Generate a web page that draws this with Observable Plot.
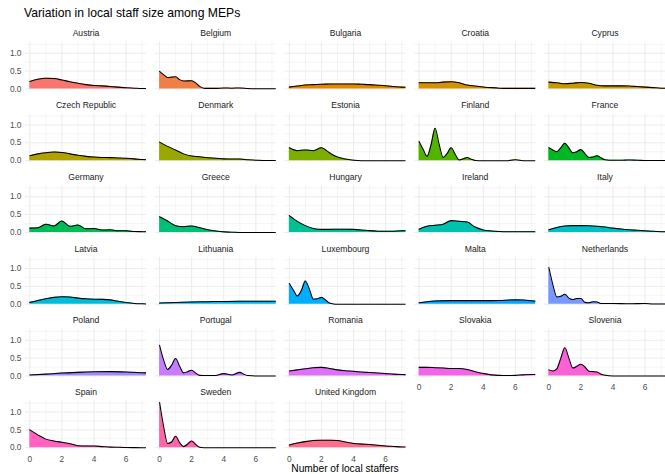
<!DOCTYPE html>
<html>
<head>
<meta charset="utf-8">
<script src="https://cdn.jsdelivr.net/npm/d3@7"></script>
<script src="https://cdn.jsdelivr.net/npm/@observablehq/plot@0.6"></script>
<style>
  html, body { margin: 0; padding: 0; background: #ffffff; }
  #wrap { position: relative; width: 665px; height: 474px; overflow: hidden; font-family: "Liberation Sans", Arial, sans-serif; }
  #wrap svg { position: absolute; left: 0; top: 0; }
  #title { position: absolute; left: 24px; top: 7px; font-size: 12.2px; line-height: 12px; color: #000; white-space: nowrap; }
  #xlab { position: absolute; left: 25px; width: 640px; top: 465.3px; text-align: center; font-size: 10.2px; line-height: 8px; color: #000; white-space: nowrap; }
</style>
</head>
<body>
<div id="wrap">
  <div id="title">Variation in local staff size among MEPs</div>
  <div id="xlab">Number of local staffers</div>
</div>
<script>
// Facet order (as in the reference)
const countries = ["Austria","Belgium","Bulgaria","Croatia","Cyprus",
  "Czech Republic","Denmark","Estonia","Finland","France",
  "Germany","Greece","Hungary","Ireland","Italy",
  "Latvia","Lithuania","Luxembourg","Malta","Netherlands",
  "Poland","Portugal","Romania","Slovakia","Slovenia",
  "Spain","Sweden","United Kingdom"];

// Density curves: [number of local staffers, density]
const austria = [[0,0.21],[0.5,0.27],[1,0.3],[1.5,0.29],[2,0.25],[2.5,0.2],[3,0.16],[3.5,0.12],[4,0.095],[4.5,0.085],[5,0.07],[5.5,0.05],[6,0.03],[6.5,0.02],[7,0.01],[7.5,0.01]];
const belgium = [[0,0.49],[0.25,0.4],[0.5,0.32],[0.75,0.33],[1,0.34],[1.25,0.26],[1.5,0.22],[2,0.23],[2.25,0.17],[2.5,0.07],[2.75,0.02],[3,0.015],[3.5,0.015],[4,0.025],[4.5,0.02],[5,0.025],[5.5,0.01],[6,0.005],[7.5,0.005]];
const bulgaria = [[0,0.05],[0.5,0.08],[1,0.11],[1.5,0.12],[2,0.13],[2.5,0.135],[3,0.14],[3.5,0.14],[4,0.14],[4.5,0.13],[5,0.12],[5.5,0.105],[6,0.09],[6.5,0.07],[7,0.05],[7.5,0.04]];
const croatia = [[0,0.17],[0.5,0.17],[1,0.17],[1.5,0.19],[2,0.2],[2.5,0.17],[3,0.11],[3.5,0.08],[4,0.055],[4.5,0.035],[5,0.02],[5.5,0.015],[6,0.015],[6.5,0.015],[7,0.015],[7.5,0.015]];
const cyprus = [[0,0.19],[0.5,0.17],[1,0.145],[1.5,0.16],[2,0.18],[2.5,0.16],[3,0.1],[3.5,0.085],[4,0.085],[4.5,0.085],[5,0.08],[5.5,0.065],[6,0.05],[6.5,0.035],[7,0.02],[7.5,0.015]];
const czechRepublic = [[0,0.14],[0.5,0.19],[1,0.22],[1.5,0.24],[2,0.23],[2.5,0.19],[3,0.15],[3.5,0.12],[4,0.1],[4.5,0.09],[5,0.085],[5.5,0.075],[6,0.065],[6.5,0.05],[7,0.03],[7.5,0.02]];
const denmark = [[0,0.52],[0.5,0.4],[1,0.3],[1.5,0.19],[2,0.13],[2.5,0.11],[3,0.08],[3.5,0.07],[4,0.05],[4.5,0.045],[5,0.045],[5.5,0.025],[6,0.01],[6.5,0.005],[7,0.003],[7.5,0]];
const estonia = [[0,0.36],[0.5,0.28],[1,0.3],[1.5,0.28],[2,0.36],[2.5,0.22],[3,0.1],[3.5,0.045],[4,0.01],[4.5,0],[7.5,0]];
const finland = [[0,0.54],[0.25,0.32],[0.5,0.12],[0.75,0.45],[1,0.91],[1.25,0.46],[1.5,0.09],[1.75,0.2],[2,0.36],[2.25,0.18],[2.5,0.02],[2.75,0.05],[3,0.09],[3.25,0.04],[3.5,0.005],[4,0],[5.5,0],[6,0.025],[6.5,0],[7.5,0]];
const france = [[0,0.36],[0.25,0.3],[0.5,0.25],[0.75,0.36],[1,0.49],[1.25,0.36],[1.5,0.22],[1.75,0.25],[2,0.31],[2.25,0.2],[2.5,0.09],[2.75,0.1],[3,0.14],[3.25,0.08],[3.5,0.025],[4,0.01],[4.5,0.01],[5,0.02],[5.5,0.01],[6,0.005],[7.5,0.003]];
const germany = [[0,0.12],[0.5,0.13],[1,0.23],[1.5,0.18],[2,0.32],[2.5,0.17],[3,0.21],[3.5,0.1],[4,0.11],[4.5,0.065],[5,0.075],[5.5,0.045],[6,0.045],[6.5,0.025],[7,0.02],[7.5,0.015]];
const greece = [[0,0.44],[0.5,0.32],[1,0.19],[1.5,0.16],[2,0.18],[2.5,0.13],[3,0.075],[3.5,0.04],[4,0.015],[4.5,0.003],[5,0],[7.5,0]];
const hungary = [[0,0.47],[0.5,0.31],[1,0.19],[1.5,0.11],[2,0.085],[2.5,0.085],[3,0.09],[3.5,0.09],[4,0.085],[4.5,0.07],[5,0.05],[5.5,0.035],[6,0.03],[6.5,0.035],[7,0.045],[7.5,0.045]];
const ireland = [[0,0.09],[0.5,0.17],[1,0.2],[1.5,0.23],[2,0.33],[2.5,0.31],[3,0.29],[3.5,0.15],[4,0.07],[4.5,0.04],[5,0.025],[5.5,0.02],[6,0.02],[6.5,0.02],[7,0.02],[7.5,0.02]];
const italy = [[0,0.075],[0.5,0.14],[1,0.18],[1.5,0.19],[2,0.19],[2.5,0.185],[3,0.17],[3.5,0.15],[4,0.12],[4.5,0.095],[5,0.075],[5.5,0.06],[6,0.045],[6.5,0.03],[7,0.02],[7.5,0.015]];
const latvia = [[0,0.05],[0.5,0.1],[1,0.15],[1.5,0.19],[2,0.21],[2.5,0.2],[3,0.17],[3.5,0.15],[4,0.14],[4.5,0.135],[5,0.12],[5.5,0.08],[6,0.045],[6.5,0.02],[7,0.01],[7.5,0.005]];
const lithuania = [[0,0.035],[1,0.045],[2,0.06],[3,0.07],[4,0.075],[5,0.08],[6,0.08],[7,0.08],[7.5,0.08]];
const luxembourg = [[0,0.58],[0.25,0.4],[0.5,0.23],[0.75,0.38],[1,0.65],[1.25,0.42],[1.5,0.14],[1.75,0.15],[2,0.19],[2.25,0.12],[2.5,0.03],[2.75,0.005],[3,0],[7.5,0]];
const malta = [[0,0.04],[0.5,0.07],[1,0.09],[2,0.1],[3,0.1],[4,0.1],[5,0.105],[6,0.12],[6.5,0.115],[7,0.095],[7.5,0.08]];
const netherlands = [[0,1.03],[0.25,0.55],[0.5,0.2],[0.75,0.22],[1,0.28],[1.25,0.17],[1.5,0.13],[1.75,0.16],[2,0.16],[2.25,0.05],[2.5,0.04],[2.75,0.07],[3,0.06],[3.25,0.02],[3.5,0.02],[4,0.02],[5,0.01],[6,0.02],[6.5,0.005],[7.5,0.005]];
const poland = [[0,0.025],[1,0.05],[2,0.08],[3,0.1],[4,0.115],[5,0.12],[6,0.11],[7,0.09],[7.5,0.08]];
const portugal = [[0,0.86],[0.25,0.45],[0.5,0.18],[0.75,0.3],[1,0.49],[1.25,0.27],[1.5,0.085],[1.75,0.12],[2,0.16],[2.25,0.08],[2.5,0.015],[3,0.01],[3.5,0.01],[4,0.065],[4.5,0.025],[5,0.1],[5.25,0.05],[5.5,0.01],[6,0],[7.5,0]];
const romania = [[0,0.14],[0.5,0.17],[1,0.2],[1.5,0.23],[2,0.24],[2.5,0.21],[3,0.17],[3.5,0.145],[4,0.13],[4.5,0.11],[5,0.095],[5.5,0.08],[6,0.065],[6.5,0.05],[7,0.04],[7.5,0.035]];
const slovakia = [[0,0.24],[0.5,0.24],[1,0.23],[1.5,0.22],[2,0.21],[2.5,0.21],[3,0.18],[3.5,0.12],[4,0.07],[4.5,0.03],[5,0.015],[5.5,0.01],[6,0.015],[6.5,0.03],[7,0.04],[7.5,0.04]];
const slovenia = [[0,0.17],[0.25,0.14],[0.5,0.2],[0.75,0.5],[1,0.79],[1.25,0.5],[1.5,0.22],[1.75,0.27],[2,0.33],[2.25,0.25],[2.5,0.13],[2.75,0.12],[3,0.11],[3.25,0.05],[3.5,0.02],[4,0],[7.5,0]];
const spain = [[0,0.5],[0.5,0.36],[1,0.24],[1.5,0.19],[2,0.15],[2.5,0.11],[3,0.055],[3.5,0.045],[4,0.045],[4.5,0.03],[5,0.015],[5.5,0.01],[6,0.005],[6.5,0.002],[7.5,0]];
const sweden = [[0,1.27],[0.25,0.6],[0.5,0.12],[0.75,0.16],[1,0.32],[1.25,0.14],[1.5,0.03],[1.75,0.1],[2,0.19],[2.25,0.09],[2.5,0.01],[2.75,0],[7.5,0]];
const unitedKingdom = [[0,0.075],[0.5,0.13],[1,0.17],[1.5,0.2],[2,0.21],[2.5,0.21],[3,0.2],[3.5,0.16],[4,0.12],[4.5,0.1],[5,0.09],[5.5,0.07],[6,0.05],[6.5,0.035],[7,0.02],[7.5,0.015]];

const curves = [austria, belgium, bulgaria, croatia, cyprus,
  czechRepublic, denmark, estonia, finland, france,
  germany, greece, hungary, ireland, italy,
  latvia, lithuania, luxembourg, malta, netherlands,
  poland, portugal, romania, slovakia, slovenia,
  spain, sweden, unitedKingdom];

// Tick values
const xTicks = [0, 2, 4, 6];
const xMinor = [1, 3, 5, 7];
const yTicks = [0, 0.5, 1];
const yMinor = [0.25, 0.75, 1.25];

// ggplot2 default hue palette (polar LUV, c = 100, l = 65)
function hclHex(h, c, l) {
  const hr = h * Math.PI / 180;
  const U = c * Math.cos(hr), V = c * Math.sin(hr);
  const Y = l > 8 ? Math.pow((l + 16) / 116, 3) : l / 903.3;
  const Xn = 0.95047, Yn = 1, Zn = 1.08883;
  const den = Xn + 15 * Yn + 3 * Zn;
  const un = 4 * Xn / den, vn = 9 * Yn / den;
  const up = U / (13 * l) + un, vp = V / (13 * l) + vn;
  const X = Y * 9 * up / (4 * vp);
  const Z = Y * (12 - 3 * up - 20 * vp) / (4 * vp);
  const lin = [
    3.2404542 * X - 1.5371385 * Y - 0.4985314 * Z,
    -0.9692660 * X + 1.8760108 * Y + 0.0415560 * Z,
    0.0556434 * X - 0.2040259 * Y + 1.0572252 * Z
  ];
  return "#" + lin.map(v => {
    v = v <= 0.0031308 ? 12.92 * v : 1.055 * Math.pow(v, 1 / 2.4) - 0.055;
    v = Math.max(0, Math.min(1, v));
    return Math.round(v * 255).toString(16).padStart(2, "0");
  }).join("");
}
const palette = countries.map((_, i) => hclHex(15 + i * 360 / countries.length, 100, 65));

const rows = curves.flatMap((pts, i) => pts.map(([x, y]) => ({
  country: countries[i], x, y, col: i % 5, row: Math.floor(i / 5)
})));
const strips = countries.map((c, i) => ({country: c, col: i % 5, row: Math.floor(i / 5)}));

const gridColor = "#EBEBEB";

const chart = Plot.plot({
  width: 665,
  height: 474,
  marginLeft: 25,
  marginRight: 0,
  marginTop: 41.7,
  marginBottom: 24.5,
  style: {fontFamily: "'Liberation Sans', Arial, sans-serif", fontSize: "8.3px", color: "#4D4D4D", background: "white"},
  fx: {domain: [0, 1, 2, 3, 4], paddingInner: 0.0674, paddingOuter: 0, round: false, axis: null, label: null},
  fy: {domain: [0, 1, 2, 3, 4, 5], paddingInner: 0.317, paddingOuter: 0, round: false, axis: null, label: null},
  x: {domain: [-0.27, 7.27], ticks: xTicks, tickSize: 0, tickPadding: 6, label: null, tickFormat: d => String(d)},
  y: {domain: [-0.065, 1.31], ticks: yTicks, tickSize: 0, tickPadding: 4, label: null, tickFormat: d3.format(".1f")},
  color: {type: "ordinal", domain: countries, range: palette},
  marks: [
    Plot.gridX(xMinor, {stroke: gridColor, strokeOpacity: 1, strokeWidth: 0.55}),
    Plot.gridY(yMinor, {stroke: gridColor, strokeOpacity: 1, strokeWidth: 0.55}),
    Plot.gridX(xTicks, {stroke: gridColor, strokeOpacity: 1, strokeWidth: 1}),
    Plot.gridY(yTicks, {stroke: gridColor, strokeOpacity: 1, strokeWidth: 1}),
    Plot.areaY(rows, {x: "x", y: "y", z: "country", fill: "country", fx: "col", fy: "row", curve: "monotone-x", clip: true}),
    Plot.lineY(rows, {x: "x", y: "y", z: "country", stroke: "#000000", strokeWidth: 1.05, fx: "col", fy: "row", curve: "monotone-x", clip: true}),
    Plot.text(strips, {text: "country", fx: "col", fy: "row", frameAnchor: "top", lineAnchor: "middle", dy: -8.5, fill: "#1A1A1A", fontSize: 8.6})
  ]
});
document.getElementById("wrap").prepend(chart);
</script>
</body>
</html>
